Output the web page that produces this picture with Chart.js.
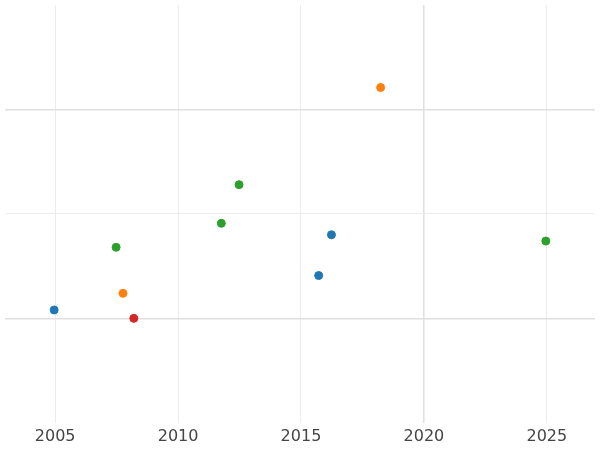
<!DOCTYPE html>
<html>
<head>
<meta charset="utf-8">
<script src="https://cdn.jsdelivr.net/npm/chart.js@4"></script>
<style>
  html, body { margin: 0; padding: 0; background: #fff; }
  #wrap { width: 600px; height: 450px; }
</style>
</head>
<body>
<div id="wrap"><canvas id="c"></canvas></div>
<script>
// data (y in arbitrary units, grid lines at 1, 2, 3)
const blueX = [2004.96, 2015.72, 2016.24];
const blueY = [1.08, 1.41, 1.80];
const orangeX = [2007.76, 2018.24];
const orangeY = [1.24, 3.21];
const greenX = [2007.48, 2011.76, 2012.48, 2024.96];
const greenY = [1.68, 1.91, 2.28, 1.74];
const redX = [2008.2];
const redY = [1.0];
const xTicks = [2005, 2010, 2015, 2020, 2025];
const yTicks = [1, 2, 3];

const pts = (xs, ys) => xs.map((x, i) => ({ x, y: ys[i] }));
const series = [
  { data: pts(blueX, blueY), color: '#1f77b4' },
  { data: pts(orangeX, orangeY), color: '#ff7f0e' },
  { data: pts(greenX, greenY), color: '#2ca02c' },
  { data: pts(redX, redY), color: '#d62728' }
];

new Chart(document.getElementById('c').getContext('2d'), {
  type: 'scatter',
  data: {
    datasets: series.map(s => ({
      data: s.data, backgroundColor: s.color, borderColor: s.color,
      pointRadius: 4, pointHoverRadius: 4
    }))
  },
  options: {
    responsive: true, maintainAspectRatio: false, animation: false,
    layout: { padding: 0 },
    plugins: { legend: { display: false }, tooltip: { enabled: false } },
    scales: {
      x: {
        type: 'linear', min: 2002.96, max: 2026.96,
        afterBuildTicks: ax => { ax.ticks = xTicks.map(v => ({ value: v })); },
        border: { display: false },
        grid: { color: c => c.tick && c.tick.value === 2020 ? '#e0e0e0' : '#ececec', lineWidth: c => c.tick && c.tick.value === 2020 ? 1.5 : 1, drawTicks: false },
        ticks: { color: '#444', font: { family: 'DejaVu Sans', size: 16 }, padding: 4, callback: v => String(v) }
      },
      y: {
        min: 0, max: 4,
        afterBuildTicks: ax => { ax.ticks = yTicks.map(v => ({ value: v })); },
        border: { display: false },
        grid: { color: c => c.tick && c.tick.value !== 2 ? '#e0e0e0' : '#ececec', lineWidth: c => c.tick && c.tick.value !== 2 ? 1.5 : 1, drawTicks: false },
        ticks: { display: false }
      }
    }
  }
});
</script>
</body>
</html>
